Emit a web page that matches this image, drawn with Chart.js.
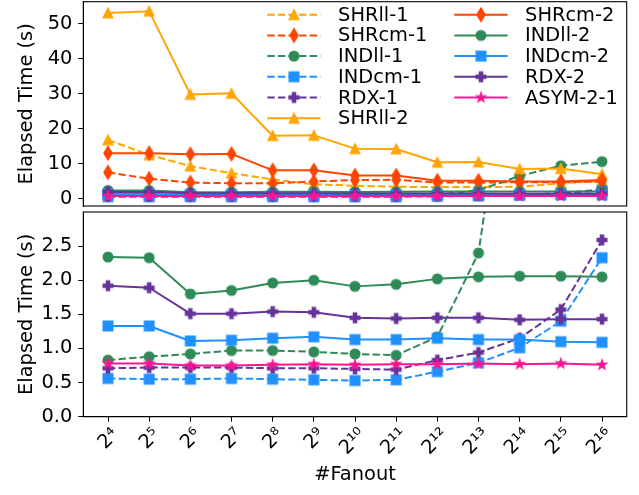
<!DOCTYPE html>
<html>
<head>
<meta charset="utf-8">
<script src="https://cdn.jsdelivr.net/npm/chart.js@4.4.0/dist/chart.umd.min.js"></script>
<style>
  html, body { margin: 0; padding: 0; background: #fff; }
  #wrap { position: relative; width: 639px; height: 495px; }
  #topChart { position: absolute; left: 0; top: 0; }
  #botChart { position: absolute; left: 0; top: 210px; }
</style>
</head>
<body>
<div id="wrap">
  <canvas id="topChart" width="639" height="210"></canvas>
  <canvas id="botChart" width="639" height="285"></canvas>
</div>
<script>
// Data
const fanout = ['2⁴', '2⁵', '2⁶', '2⁷', '2⁸', '2⁹', '2¹⁰', '2¹¹', '2¹²', '2¹³', '2¹⁴', '2¹⁵', '2¹⁶'];
const topTicks = [0, 10, 20, 30, 40, 50];
const bottomTicks = [0, 0.5, 1.0, 1.5, 2.0, 2.5];

const shrll1 = [16.8, 12.5, 9.3, 7.3, 5.5, 4.1, 3.7, 3.4, 3.3, 3.3, 3.4, 4.4, 5.0];
const shrcm1 = [7.5, 5.7, 4.6, 4.4, 4.4, 4.9, 5.3, 5.4, 4.6, 4.6, 4.7, 4.7, 4.9];
const indll1 = [0.83, 0.88, 0.92, 0.97, 0.97, 0.95, 0.92, 0.90, 1.17, 2.40, 6.5, 9.4, 10.6];
const indcm1 = [0.56, 0.55, 0.55, 0.56, 0.55, 0.54, 0.53, 0.54, 0.66, 0.79, 1.01, 1.40, 2.33];
const rdx1 = [0.71, 0.72, 0.72, 0.72, 0.71, 0.71, 0.70, 0.69, 0.83, 0.94, 1.15, 1.57, 2.59];
const shrll2 = [53.1, 53.6, 29.8, 30.1, 18.0, 18.1, 14.3, 14.2, 10.4, 10.5, 8.5, 8.6, 7.0];
const shrcm2 = [13.0, 13.0, 12.7, 12.8, 8.1, 8.1, 6.6, 6.6, 5.1, 5.1, 4.9, 4.9, 5.3];
const indll2 = [2.34, 2.33, 1.80, 1.85, 1.96, 2.00, 1.91, 1.94, 2.02, 2.05, 2.06, 2.06, 2.05];
const indcm2 = [1.33, 1.33, 1.11, 1.12, 1.15, 1.17, 1.13, 1.13, 1.15, 1.13, 1.13, 1.10, 1.09];
const rdx2 = [1.92, 1.89, 1.51, 1.51, 1.54, 1.53, 1.45, 1.44, 1.45, 1.45, 1.42, 1.43, 1.43];
const asym21 = [0.78, 0.78, 0.75, 0.75, 0.76, 0.77, 0.76, 0.77, 0.77, 0.78, 0.77, 0.78, 0.76];

const seriesNames = ['SHRll-1', 'SHRcm-1', 'INDll-1', 'INDcm-1', 'RDX-1',
                     'SHRll-2', 'SHRcm-2', 'INDll-2', 'INDcm-2', 'RDX-2', 'ASYM-2-1'];
const seriesValues = [shrll1, shrcm1, indll1, indcm1, rdx1,
                      shrll2, shrcm2, indll2, indcm2, rdx2, asym21];
const seriesColors = ['#FFA500', '#FF4500', '#2E8B57', '#1E90FF', '#663399',
                      '#FFA500', '#FF4500', '#2E8B57', '#1E90FF', '#663399', '#FF1493'];
const seriesMarkers = ['triangle', 'thinDiamond', 'circle', 'square', 'plus',
                       'triangle', 'thinDiamond', 'circle', 'square', 'plus', 'star'];
const seriesDashed = [true, true, true, true, true, false, false, false, false, false, false];

const FONT = { family: 'DejaVu Sans', size: 19.4 };
const DASH = [7.4, 3.2];

// Marker images (matplotlib-like shapes)
function makeMarker(shape, color) {
    const c = document.createElement('canvas');
    c.width = 20; c.height = 20;
    const g = c.getContext('2d');
    g.translate(10, 10);
    g.fillStyle = color;
    g.strokeStyle = color;
    g.lineWidth = 1.3;
    g.lineJoin = 'miter';
    const s = 9.7, h = s / 2;
    g.beginPath();
    if (shape === 'circle') {
        g.arc(0, 0, h, 0, Math.PI * 2);
    } else if (shape === 'square') {
        g.rect(-h, -h, s, s);
    } else if (shape === 'triangle') {
        g.moveTo(0, -h); g.lineTo(h, h); g.lineTo(-h, h); g.closePath();
    } else if (shape === 'thinDiamond') {
        const dy = s * 0.707, dx = dy * 0.6;
        g.moveTo(0, -dy); g.lineTo(dx, 0); g.lineTo(0, dy); g.lineTo(-dx, 0); g.closePath();
    } else if (shape === 'plus') {
        const pts = [[-1, -3], [1, -3], [1, -1], [3, -1], [3, 1], [1, 1], [1, 3], [-1, 3], [-1, 1], [-3, 1], [-3, -1], [-1, -1]];
        pts.forEach((p, k) => {
            const px = p[0] * s / 6, py = p[1] * s / 6;
            if (k === 0) g.moveTo(px, py); else g.lineTo(px, py);
        });
        g.closePath();
    } else if (shape === 'star') {
        for (let k = 0; k < 10; k++) {
            const r = k % 2 === 0 ? h : h * 0.381966;
            const a = -Math.PI / 2 + k * Math.PI / 5;
            if (k === 0) g.moveTo(r * Math.cos(a), r * Math.sin(a));
            else g.lineTo(r * Math.cos(a), r * Math.sin(a));
        }
        g.closePath();
    }
    g.fill();
    g.stroke();
    return c;
}

const markerImgs = seriesMarkers.map((m, i) => makeMarker(m, seriesColors[i]));

function buildDatasets() {
    return seriesNames.map((name, i) => ({
        label: name,
        data: seriesValues[i].map((v, k) => ({ x: k, y: v })),
        borderColor: seriesColors[i],
        backgroundColor: seriesColors[i],
        borderWidth: 2,
        borderDash: seriesDashed[i] ? DASH : [],
        borderJoinStyle: 'round',
        pointStyle: markerImgs[i],
        pointRadius: 5,
        pointHoverRadius: 5,
        tension: 0,
        fill: false,
        order: seriesNames.length - i
    }));
}

// Frame around the plot area
const framePlugin = {
    id: 'frame',
    afterDatasetsDraw(chart) {
        const a = chart.chartArea, g = chart.ctx;
        g.save();
        g.strokeStyle = '#000';
        g.lineWidth = 1.1;
        g.strokeRect(a.left, a.top, a.right - a.left, a.bottom - a.top);
        g.restore();
    }
};

// Two-column legend in the top panel
const legendPlugin = {
    id: 'panelLegend',
    afterDraw(chart) {
        const g = chart.ctx;
        g.save();
        g.font = FONT.size + 'px "DejaVu Sans"';
        g.textBaseline = 'middle';
        seriesNames.forEach((name, i) => {
            const col = i < 6 ? 0 : 1;
            const row = col ? i - 6 : i;
            const x0 = col ? 454.3 : 267.3;
            const x1 = x0 + 53.3;
            const y = 14.7 + row * 20.7;
            g.strokeStyle = seriesColors[i];
            g.lineWidth = 2;
            g.setLineDash(seriesDashed[i] ? DASH : []);
            g.beginPath();
            g.moveTo(x0, y);
            g.lineTo(x1, y);
            g.stroke();
            g.setLineDash([]);
            const m = markerImgs[i];
            g.drawImage(m, (x0 + x1) / 2 - m.width / 2, y - m.height / 2);
            g.fillStyle = '#000';
            g.fillText(name, x1 + 17.5, y + 1);
        });
        g.restore();
    }
};

function yScale(min, max, ticks, fmt) {
    return {
        type: 'linear',
        min: min,
        max: max,
        afterBuildTicks: s => { s.ticks = ticks.map(v => ({ value: v })); },
        afterFit: s => { s.width = 83.3; s.paddingTop = 0; s.paddingBottom = 0; },
        ticks: { font: FONT, color: '#000', padding: 6, callback: fmt },
        grid: { drawOnChartArea: false, drawTicks: true, tickLength: 5, color: '#000' },
        border: { display: true, color: '#000', width: 1 },
        title: { display: true, text: 'Elapsed Time (s)', font: FONT, color: '#000', padding: { top: 15, bottom: 0 } }
    };
}

// Top panel
const ctxTop = document.getElementById('topChart').getContext('2d');
const topChart = new Chart(ctxTop, {
    type: 'line',
    data: { datasets: buildDatasets() },
    options: {
        responsive: false,
        animation: false,
        layout: { autoPadding: false, padding: { top: 1.7, right: 12.3, bottom: 4, left: 0 } },
        plugins: { legend: { display: false }, tooltip: { enabled: false } },
        scales: {
            x: { type: 'linear', display: false, min: -0.6, max: 12.6 },
            y: yScale(-2.1, 56.3, topTicks, v => String(v))
        }
    },
    plugins: [framePlugin, legendPlugin]
});

// Bottom panel
const ctxBot = document.getElementById('botChart').getContext('2d');
const botChart = new Chart(ctxBot, {
    type: 'line',
    data: { datasets: buildDatasets() },
    options: {
        responsive: false,
        animation: false,
        layout: { autoPadding: false, padding: { top: 2, right: 12.3, bottom: 0, left: 0 } },
        plugins: { legend: { display: false }, tooltip: { enabled: false } },
        scales: {
            x: {
                type: 'linear',
                min: -0.6,
                max: 12.6,
                afterBuildTicks: s => { s.ticks = fanout.map((_, i) => ({ value: i })); },
                afterFit: s => { s.height = 78.3; s.paddingLeft = 0; s.paddingRight = 0; },
                ticks: {
                    font: FONT, color: '#000', padding: 2,
                    minRotation: 45, maxRotation: 45,
                    labelOffset: 8,
                    callback: (v, i) => fanout[i]
                },
                grid: { drawOnChartArea: false, drawTicks: true, tickLength: 5, color: '#000' },
                border: { display: true, color: '#000', width: 1 },
                title: { display: true, text: '#Fanout', font: FONT, color: '#000', padding: { top: 0, bottom: 8 } }
            },
            y: yScale(0, 3.0, bottomTicks, v => v.toFixed(1))
        }
    },
    plugins: [framePlugin]
});
</script>
</body>
</html>
